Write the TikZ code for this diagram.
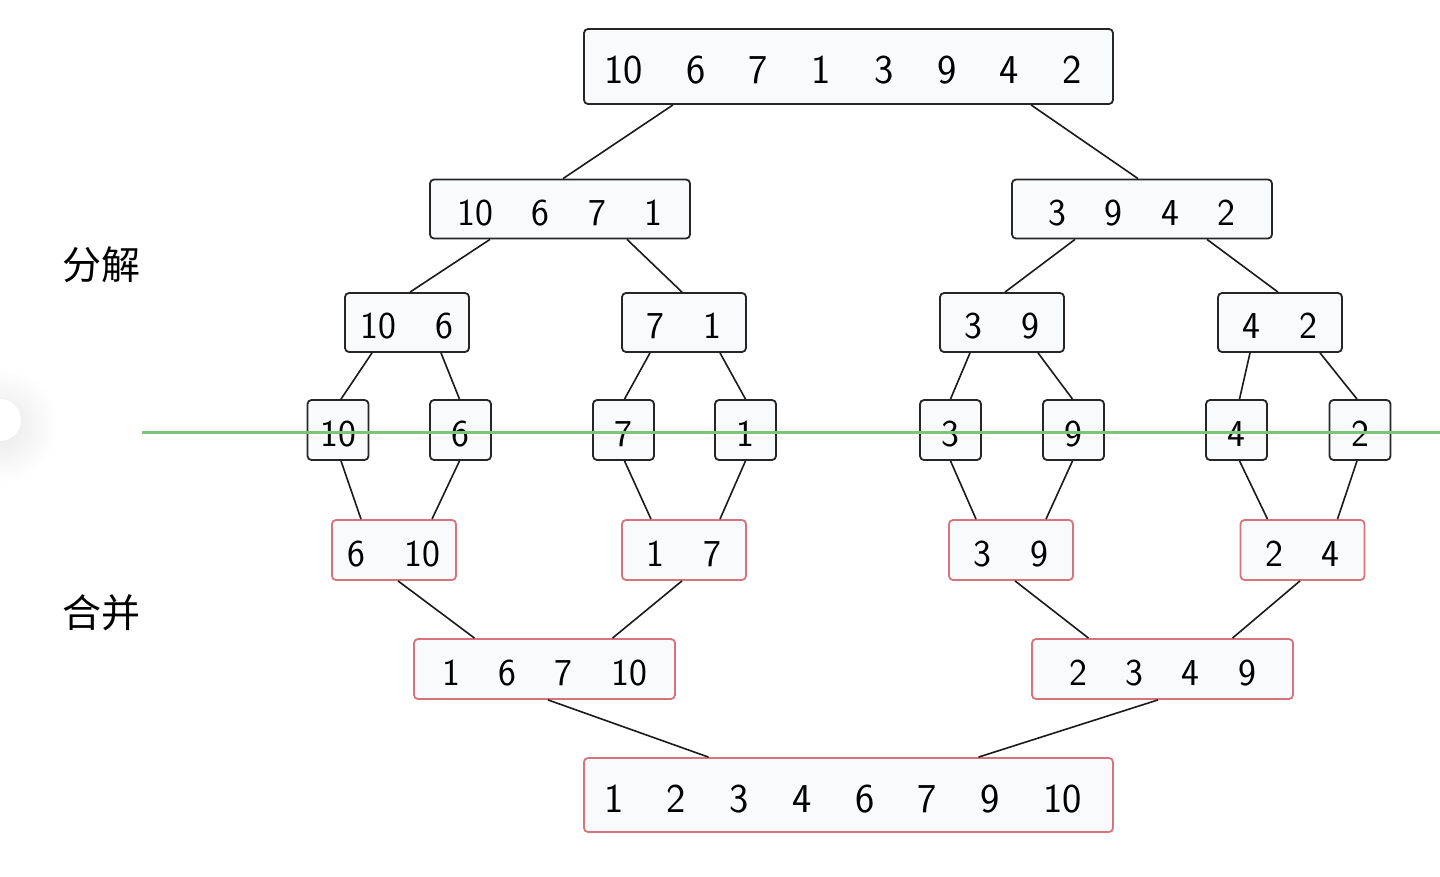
\documentclass[tikz,border=0pt]{standalone}
\usepackage{fontspec}
\newfontfamily\cjkfont{Noto Sans CJK SC}
\definecolor{boxline}{HTML}{262626}
\definecolor{boxfill}{HTML}{F9FAFB}
\definecolor{redline}{HTML}{D7737A}
\definecolor{linkclr}{HTML}{1A1A1A}
\definecolor{greenline}{HTML}{7CC47A}
\newcommand\gS{\hspace{38.5pt}}
\newcommand\gL{\hspace{43.5pt}}
\begin{document}
\begin{tikzpicture}[x=1pt,y=-1pt,
  bx/.style={draw=boxline, fill=boxfill, rounded corners=4pt, line width=1.8pt,
    inner sep=0pt, font=\fontsize{38}{40}\selectfont\sffamily,
    text height=32.4pt, text depth=0pt},
  mx/.style={bx, draw=redline},
  big/.style={font=\fontsize{41}{44}\selectfont\sffamily, minimum width=529pt,
    text height=34.4pt},
  mid/.style={minimum width=260pt, minimum height=59pt},
  pair/.style={minimum width=124pt, minimum height=59pt},
  one/.style={minimum width=61pt, minimum height=60pt},
  conn/.style={draw=linkclr, line width=1.6pt},
  lbl/.style={font=\fontsize{39}{42}\selectfont\cjkfont}]
\useasboundingbox (0,0) rectangle (1440,876);
\fill[white] (0,0) rectangle (1440,876);
% faint background artefacts
\shade[inner color=black!9, outer color=white] (0,425) circle (58pt);
\fill[white] (0,420) circle (21pt);
% labels
\node[lbl] (lsplit) at (101,265) {分解};
\node[lbl] (lmerge) at (101,613) {合并};
% level 0
\node[bx,big,minimum height=75pt] (r) at (848.5,66.5) {10\gL6\gL7\gL1\gL3\gL9\gL4\gL2\kern11pt};
% level 1
\node[bx,mid] (a) at (560,209) {10\gS6\gS7\gS1};
\node[bx,mid] (b) at (1142,209) {3\gS9\gS4\gS2};
% level 2
\node[bx,pair] (c) at (407,322.5) {10\gS6};
\node[bx,pair] (d) at (684,322.5) {7\gS1};
\node[bx,pair] (e) at (1002,322.5) {3\gS9};
\node[bx,pair] (f) at (1280,322.5) {4\gS2};
% level 3
\node[bx,one] (s10) at (338,430) {10};
\node[bx,one] (s6) at (460.5,430) {6};
\node[bx,one] (s7) at (623.5,430) {7};
\node[bx,one] (s1) at (745.5,430) {1};
\node[bx,one] (s3) at (950.5,430) {3};
\node[bx,one] (s9) at (1073.5,430) {9};
\node[bx,one] (s4) at (1236.5,430) {4};
\node[bx,one] (s2) at (1360,430) {2};
% level 4
\node[mx,pair,minimum height=60pt] (m1) at (394,550) {6\gS10};
\node[mx,pair,minimum height=60pt] (m2) at (684,550) {1\gS7};
\node[mx,pair,minimum height=60pt] (m3) at (1011,550) {3\gS9};
\node[mx,pair,minimum height=60pt] (m4) at (1302.5,550) {2\gS4};
% level 5
\node[mx,minimum width=261pt,minimum height=60pt] (n1) at (544.5,669) {1\gS6\gS7\gS10};
\node[mx,minimum width=261pt,minimum height=60pt] (n2) at (1162.5,669) {2\gS3\gS4\gS9};
% level 6
\node[mx,big,minimum height=74pt] (z) at (848.5,795) {1\gL2\gL3\gL4\gL6\gL7\gL9\gL10\kern11pt};
% connectors (split)
\draw[conn] ([xshift=-175.5pt]r.south) -- ([xshift=3pt]a.north);
\draw[conn] ([xshift=182.5pt]r.south) -- ([xshift=-4pt]b.north);
\draw[conn] ([xshift=-70pt]a.south) -- ([xshift=3pt]c.north);
\draw[conn] ([xshift=67pt]a.south) -- ([xshift=-2pt]d.north);
\draw[conn] ([xshift=-67pt]b.south) -- ([xshift=3pt]e.north);
\draw[conn] ([xshift=65pt]b.south) -- ([xshift=-2pt]f.north);
\draw[conn] ([xshift=-35pt]c.south) -- ([xshift=3pt]s10.north);
\draw[conn] ([xshift=34pt]c.south) -- ([xshift=-1pt]s6.north);
\draw[conn] ([xshift=-34pt]d.south) -- ([xshift=1pt]s7.north);
\draw[conn] ([xshift=36pt]d.south) -- ([xshift=0pt]s1.north);
\draw[conn] ([xshift=-32pt]e.south) -- ([xshift=0pt]s3.north);
\draw[conn] ([xshift=36pt]e.south) -- ([xshift=-1pt]s9.north);
\draw[conn] ([xshift=-30pt]f.south) -- ([xshift=3pt]s4.north);
\draw[conn] ([xshift=40pt]f.south) -- ([xshift=-3pt]s2.north);
% connectors (merge)
\draw[conn] ([xshift=3pt]s10.south) -- ([xshift=-33pt]m1.north);
\draw[conn] ([xshift=-1pt]s6.south) -- ([xshift=38pt]m1.north);
\draw[conn] ([xshift=1pt]s7.south) -- ([xshift=-33pt]m2.north);
\draw[conn] ([xshift=0pt]s1.south) -- ([xshift=36pt]m2.north);
\draw[conn] ([xshift=0pt]s3.south) -- ([xshift=-35pt]m3.north);
\draw[conn] ([xshift=-1pt]s9.south) -- ([xshift=35pt]m3.north);
\draw[conn] ([xshift=3pt]s4.south) -- ([xshift=-35pt]m4.north);
\draw[conn] ([xshift=-3pt]s2.south) -- ([xshift=35pt]m4.north);
\draw[conn] ([xshift=4pt]m1.south) -- ([xshift=-70pt]n1.north);
\draw[conn] ([xshift=-2pt]m2.south) -- ([xshift=68pt]n1.north);
\draw[conn] ([xshift=4pt]m3.south) -- ([xshift=-74pt]n2.north);
\draw[conn] ([xshift=-2.5pt]m4.south) -- ([xshift=70pt]n2.north);
\draw[conn] ([xshift=3.5pt]n1.south) -- ([xshift=-140pt]z.north);
\draw[conn] ([xshift=-4.5pt]n2.south) -- ([xshift=130pt]z.north);
% green divider drawn over the boxes
\coordinate (gl) at (142,432);
\coordinate (gr) at (1440,432);
\draw[greenline, line width=3pt] (gl) -- (gr);
\end{tikzpicture}
\end{document}
